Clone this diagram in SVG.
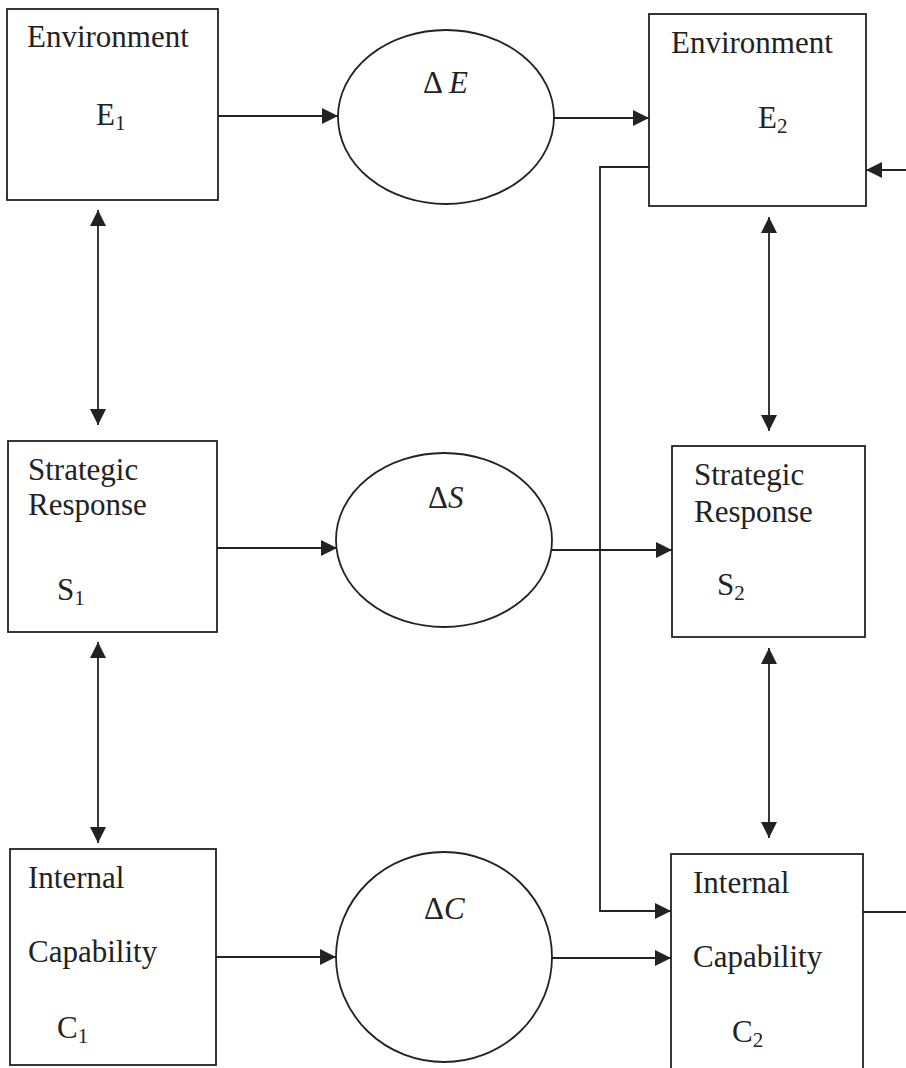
<svg xmlns="http://www.w3.org/2000/svg" width="906" height="1068" viewBox="0 0 906 1068">
<defs>
<marker id="ah" markerUnits="userSpaceOnUse" markerWidth="18" markerHeight="16" refX="16" refY="8" orient="auto-start-reverse">
<path d="M0,0 L16,8 L0,16 z" fill="#222"/>
</marker>
<style>
.box{fill:none;stroke:#222;stroke-width:1.8}
.ell{fill:none;stroke:#222;stroke-width:1.8}
.t{font-family:"Liberation Serif","Times New Roman",serif;font-size:31px;fill:#222}
.sub{font-size:21px}
.it{font-style:italic}
.c{fill:none;stroke:#222;stroke-width:1.8}
.a{marker-end:url(#ah)}
.d{marker-start:url(#ah);marker-end:url(#ah)}
</style>
</defs>
<rect width="906" height="1068" fill="#fff"/>
<g id="E1">
<rect class="box" x="7" y="9" width="211" height="191"/>
<text class="t" x="27" y="47">Environment</text>
<text class="t" x="96" y="125">E<tspan class="sub" dy="5">1</tspan></text>
</g>
<g id="dE">
<ellipse class="ell" cx="446" cy="117" rx="108" ry="87"/>
<text class="t" x="423" y="93">Δ <tspan class="it">E</tspan></text>
</g>
<g id="E2">
<rect class="box" x="649" y="14" width="217" height="192"/>
<text class="t" x="671" y="53">Environment</text>
<text class="t" x="758" y="128">E<tspan class="sub" dy="5">2</tspan></text>
</g>
<g id="S1">
<rect class="box" x="8" y="441" width="209" height="191"/>
<text class="t" x="28" y="480">Strategic</text>
<text class="t" x="28" y="515">Response</text>
<text class="t" x="57" y="600">S<tspan class="sub" dy="5">1</tspan></text>
</g>
<g id="dS">
<ellipse class="ell" cx="444" cy="540" rx="108" ry="87"/>
<text class="t" x="428" y="508">Δ<tspan class="it">S</tspan></text>
</g>
<g id="S2">
<rect class="box" x="672" y="446" width="193" height="191"/>
<text class="t" x="694" y="485">Strategic</text>
<text class="t" x="694" y="522">Response</text>
<text class="t" x="717" y="595">S<tspan class="sub" dy="5">2</tspan></text>
</g>
<g id="C1">
<rect class="box" x="10" y="849" width="206" height="216"/>
<text class="t" x="28" y="888">Internal</text>
<text class="t" x="28" y="962">Capability</text>
<text class="t" x="57" y="1038">C<tspan class="sub" dy="5">1</tspan></text>
</g>
<g id="dC">
<ellipse class="ell" cx="444" cy="957" rx="108" ry="105"/>
<text class="t" x="424" y="919">Δ<tspan class="it">C</tspan></text>
</g>
<g id="C2">
<rect class="box" x="671" y="854" width="192" height="230"/>
<text class="t" x="693" y="893">Internal</text>
<text class="t" x="693" y="967">Capability</text>
<text class="t" x="732" y="1042">C<tspan class="sub" dy="5">2</tspan></text>
</g>
<g id="connectors">
<path class="c a" d="M218,116 H338"/>
<path class="c a" d="M554,118 H649"/>
<path class="c a" d="M217,548 H337"/>
<path class="c a" d="M552,550 H672"/>
<path class="c a" d="M216,957 H336"/>
<path class="c a" d="M552,958 H671"/>
<path class="c a" d="M649,167 H600 V911 H671"/>
<path class="c" d="M863,912 H906"/>
<path class="c a" d="M906,170 H866"/>
<path class="c d" d="M98,210 V425"/>
<path class="c d" d="M98,642 V843"/>
<path class="c d" d="M769,217 V431"/>
<path class="c d" d="M769,648 V838"/>
</g>
</svg>
